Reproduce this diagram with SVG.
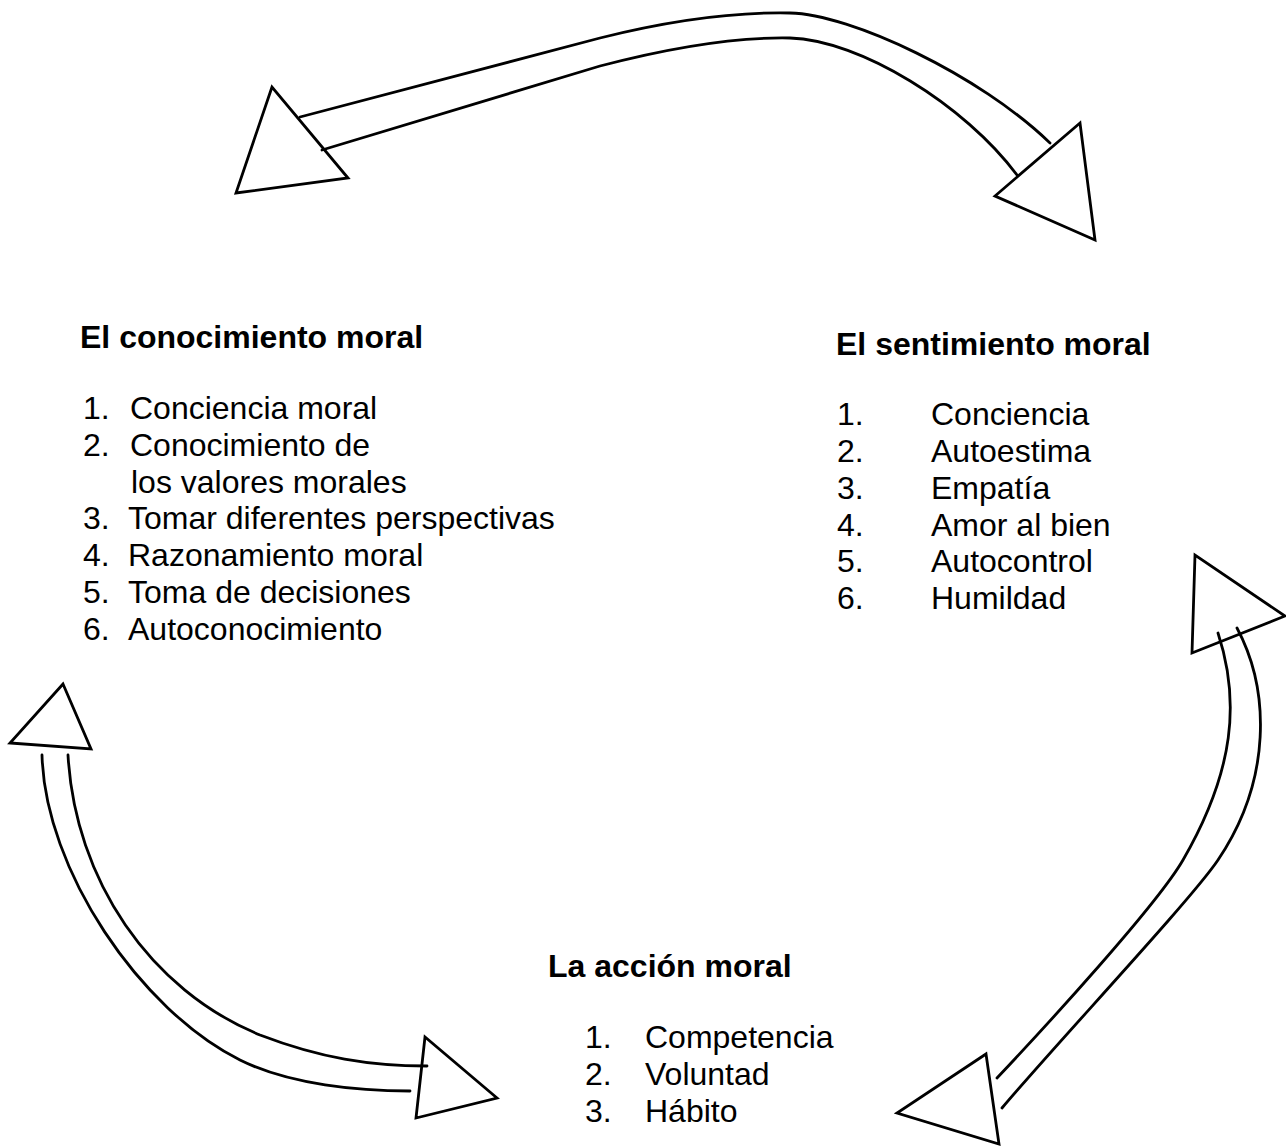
<svg xmlns="http://www.w3.org/2000/svg" width="1286" height="1146" viewBox="0 0 1286 1146">
<style>
text{font-family:"Liberation Sans",Arial,sans-serif;font-size:32px;fill:#000}
.t{font-weight:bold}
.ln{fill:none;stroke:#000;stroke-width:2.8;stroke-linecap:round}
.hd{fill:#fff;stroke:#000;stroke-width:2.8;stroke-linejoin:miter}
</style>
<rect width="1286" height="1146" fill="#fff"/>
<g id="connectors">
<polygon class="hd" points="272,87 236,193 348,178"/>
<polygon class="hd" points="1080,123 995,196 1095,240"/>
<polygon class="hd" points="63,684 10,743 91,749"/>
<polygon class="hd" points="425,1037 416,1118 497,1098"/>
<polygon class="hd" points="1195,555 1192,653 1285,616"/>
<polygon class="hd" points="986,1054 897,1113 999,1144"/>
<path class="ln" d="M300,117 L600,38 C680,18 740,12 790,13 C850,14 980,75 1050,143"/>
<path class="ln" d="M322,150 L600,66 C680,45 740,37 790,38 C860,40 965,105 1017,175"/>
<path class="ln" d="M68,755 C75,880 150,990 260,1035 C320,1058 370,1066 427,1066"/>
<path class="ln" d="M42,755 C45,870 140,1010 240,1060 C290,1085 360,1091 410,1091"/>
<path class="ln" d="M1218,633 C1240,700 1235,770 1183,860 C1157,905 1047,1025 997,1078"/>
<path class="ln" d="M1237,628 C1270,690 1272,780 1218,860 C1191,900 1055,1045 1002,1108"/>
</g>
<g id="node-conocimiento">
<text class="t" x="80" y="348">El conocimiento moral</text>
<text x="83" y="419">1.</text><text x="130" y="419">Conciencia moral</text>
<text x="83" y="456">2.</text><text x="130" y="456">Conocimiento de</text>
<text x="131" y="493">los valores morales</text>
<text x="83" y="529">3.</text><text x="128" y="529">Tomar diferentes perspectivas</text>
<text x="83" y="566">4.</text><text x="128" y="566">Razonamiento moral</text>
<text x="83" y="603">5.</text><text x="128" y="603">Toma de decisiones</text>
<text x="83" y="640">6.</text><text x="128" y="640">Autoconocimiento</text>
</g>
<g id="node-sentimiento">
<text class="t" x="836" y="355">El sentimiento moral</text>
<text x="837" y="425">1.</text><text x="931" y="425">Conciencia</text>
<text x="837" y="462">2.</text><text x="931" y="462">Autoestima</text>
<text x="837" y="499">3.</text><text x="931" y="499">Empatía</text>
<text x="837" y="536">4.</text><text x="931" y="536">Amor al bien</text>
<text x="837" y="572">5.</text><text x="931" y="572">Autocontrol</text>
<text x="837" y="609">6.</text><text x="931" y="609">Humildad</text>
</g>
<g id="node-accion">
<text class="t" x="548" y="977">La acción moral</text>
<text x="585" y="1048">1.</text><text x="645" y="1048">Competencia</text>
<text x="585" y="1085">2.</text><text x="645" y="1085">Voluntad</text>
<text x="585" y="1122">3.</text><text x="645" y="1122">Hábito</text>
</g>
</svg>
